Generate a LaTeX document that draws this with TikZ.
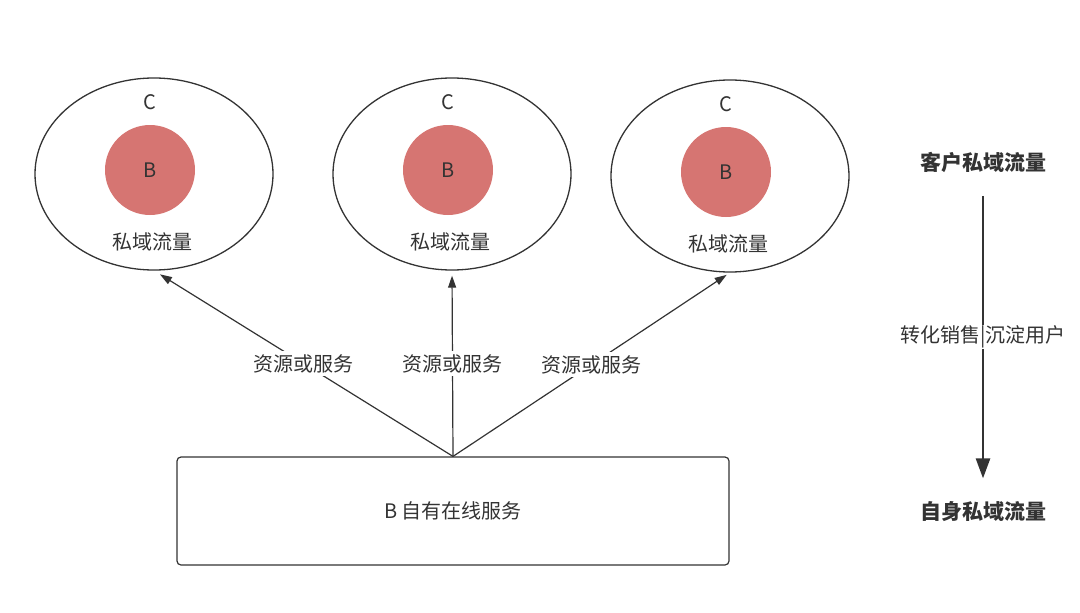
\documentclass[tikz,border=0pt]{standalone}
\usepackage{fontspec}
\setmainfont{Noto Sans CJK SC}
\usetikzlibrary{positioning,arrows.meta,shapes.geometric}
\definecolor{flowRed}{RGB}{214,117,114}
\definecolor{flowInk}{RGB}{51,51,51}

\tikzset{
  custring/.style={draw=flowInk, line width=1.3pt, ellipse, minimum width=238pt, minimum height=192pt},
  core/.style={circle, fill=flowRed, minimum size=90pt, text=flowInk, font=\fontsize{20}{23}\selectfont},
  tag/.style={text=flowInk, font=\fontsize{20}{23}\selectfont},
  give/.style={draw=flowInk, line width=1.2pt, -{Triangle[length=12pt,width=8pt]}},
  edgelabel/.style={fill=white, inner sep=3pt},
  headline/.style={text=flowInk, font=\fontsize{21}{24}\selectfont\bfseries}
}

\begin{document}
\begin{tikzpicture}[x=1pt, y=-1pt]
  \useasboundingbox (0,0) rectangle (1080,613);
  % three customer domains
  \foreach \n/\x/\y in {1/154/174, 2/452/174, 3/730/176} {
    \node[custring] (c\n) at (\x,\y) {};
    \node[core] (b\n) at (\x-4,\y-4) {B};
    \node[tag] (cl\n) at (\x-4,\y-72) {C};
    \node[tag] (pl\n) at (\x-2,\y+68) {私域流量};
  }
  % own service
  \node[draw=flowInk, line width=1.2pt, rounded corners=4pt, minimum width=552pt, minimum height=108pt, tag] (own) at (453,511) {B 自有在线服务};
  \draw[give, shorten >=7pt] (own.north) -- node[edgelabel, tag, pos=0.5] {资源或服务} (c1.south);
  \draw[give, shorten >=5pt] (own.north) -- node[edgelabel, tag, pos=0.5] {资源或服务} (c2.south);
  \draw[give, shorten >=4pt] (own.north) -- node[edgelabel, tag, pos=0.5] {资源或服务} (c3.south);
  % right side flow
  \node[headline] (top) at (983,162) {客户私域流量};
  \node[headline] (bottom) at (983,512) {自身私域流量};
  \draw[draw=flowInk, line width=2.6pt, -{Triangle[length=20pt,width=14pt]}, shorten <=20pt, shorten >=20pt] (top) -- node[edgelabel, tag, inner sep=1pt, pos=0.5] {转化销售|沉淀用户} (bottom);
\end{tikzpicture}
\end{document}
